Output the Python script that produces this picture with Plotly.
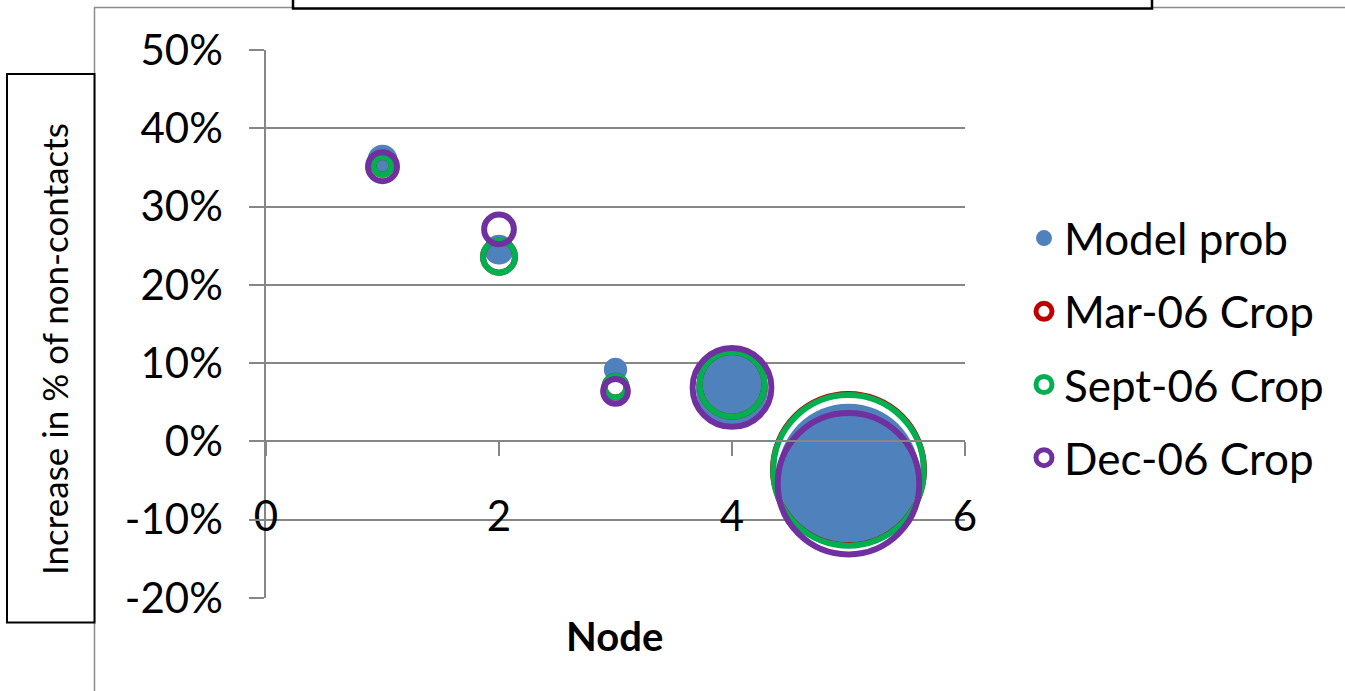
import plotly.graph_objects as go

# ---- data ----
nodes = [1, 2, 3, 4, 5]
model_prob = [0.36, 0.245, 0.092, 0.067, -0.042]
mar06 = [0.352, 0.236, 0.070, 0.073, -0.036]
sept06 = [0.352, 0.236, 0.070, 0.073, -0.037]
dec06 = [0.351, 0.271, 0.064, 0.069, -0.054]

model_size = [3.9, 3.9, 2.4, 23.1, 88.1]
mar06_size = [1.4, 4.5, 2.1, 18.5, 100.6]
sept06_size = [1.4, 4.5, 2.1, 18.5, 100.0]
dec06_size = [3.7, 3.9, 2.7, 27.4, 88.4]

y_ticks = [-0.2, -0.1, 0.0, 0.1, 0.2, 0.3, 0.4, 0.5]
x_ticks = [0, 2, 4, 6]

W, H = 1345, 691
ML, MR, MT, MB = 266, 380, 50, 93
PW, PH = W - ML - MR, H - MT - MB


def px(xp):
    return (xp - ML) / PW


def py(yp):
    return (H - MB - yp) / PH


FONT = "Lato"
GRID = "#868686"
BLUE = "#4F81BD"
RED = "#C00000"
GREEN = "#00B050"
PURPLE = "#7030A0"

max_size = max(model_size + mar06_size + sept06_size + dec06_size)
sizeref = 2.0 * max_size / (151.0 ** 2)

fig = go.Figure()
fig.add_trace(go.Scatter(
    x=nodes, y=model_prob, mode="markers", name="Model prob", legendgroup="g1",
    marker=dict(size=model_size, sizemode="area", sizeref=sizeref, color=BLUE,
                opacity=1, line=dict(width=0)),
))
series = [("Mar-06 Crop", mar06, mar06_size, RED, "g2"),
          ("Sept-06 Crop", sept06, sept06_size, GREEN, "g3"),
          ("Dec-06 Crop", dec06, dec06_size, PURPLE, "g4")]
for name, ys, ss, col, grp in series:
    fig.add_trace(go.Scatter(
        x=nodes, y=ys, mode="markers", name=name, legendgroup=grp,
        marker=dict(size=ss, sizemode="area", sizeref=sizeref, color=col,
                    opacity=1, symbol="circle-open", line=dict(width=6, color=col)),
    ))

y_min, y_max = min(y_ticks), max(y_ticks)
zero_pos = (0 - y_min) / (y_max - y_min)

fig.update_layout(
    width=W, height=H,
    margin=dict(l=ML, r=MR, t=MT, b=MB),
    paper_bgcolor="white", plot_bgcolor="white",
    font=dict(family=FONT, color="black"),
    showlegend=True,
    legend=dict(
        x=px(1024), y=py(203), xanchor="left", yanchor="top",
        font=dict(family=FONT, size=44, color="black"),
        traceorder="grouped", tracegroupgap=13, itemsizing="trace",
        bgcolor="rgba(0,0,0,0)",
    ),
    xaxis=dict(
        range=[0, 6], tickvals=x_ticks, ticktext=[str(v) for v in x_ticks],
        showgrid=False, zeroline=False,
        anchor="free", position=zero_pos,
        showline=True, linecolor=GRID, linewidth=1.5,
        ticks="outside", ticklen=14, tickwidth=1.5, tickcolor=GRID,
        ticklabelstandoff=24,
        tickfont=dict(family=FONT, size=42, color="black"),
    ),
    yaxis=dict(
        range=[y_min, y_max], tickvals=y_ticks,
        ticktext=[f"{v:.0%}" for v in y_ticks],
        showgrid=True, gridcolor=GRID, gridwidth=1.5, zeroline=False,
        showline=True, linecolor=GRID, linewidth=1.5,
        ticks="outside", ticklen=15, tickwidth=1.5, tickcolor=GRID,
        ticklabelstandoff=18,
        tickfont=dict(family=FONT, size=42, color="black"),
    ),
    shapes=[
        # chart area border (gray)
        dict(type="rect", xref="paper", yref="paper",
             x0=px(94.5), x1=px(1400), y0=py(760), y1=py(7.5),
             line=dict(color="#8C8C8C", width=1.5), fillcolor="rgba(0,0,0,0)", layer="below"),
        # title box
        dict(type="rect", xref="paper", yref="paper",
             x0=px(293), x1=px(1152), y0=py(8.5), y1=py(-20),
             line=dict(color="black", width=2.5), fillcolor="white", layer="above"),
        # y-axis title box
        dict(type="rect", xref="paper", yref="paper",
             x0=px(7), x1=px(94.5), y0=py(622.5), y1=py(74),
             line=dict(color="black", width=2), fillcolor="white", layer="above"),
    ],
    annotations=[
        dict(text="Increase in % of non-contacts", xref="paper", yref="paper",
             x=px(54), y=py(349), xanchor="center", yanchor="middle",
             textangle=-90, showarrow=False,
             font=dict(family=FONT, size=35, color="black")),
        dict(text="<b>Node</b>", xref="paper", yref="paper",
             x=px(614), y=py(636), xanchor="center", yanchor="middle",
             showarrow=False, font=dict(family=FONT, size=40, color="black")),
    ],
)

fig.write_html("out.html", config={"displayModeBar": False},
               post_script="document.body.style.margin='0';")
